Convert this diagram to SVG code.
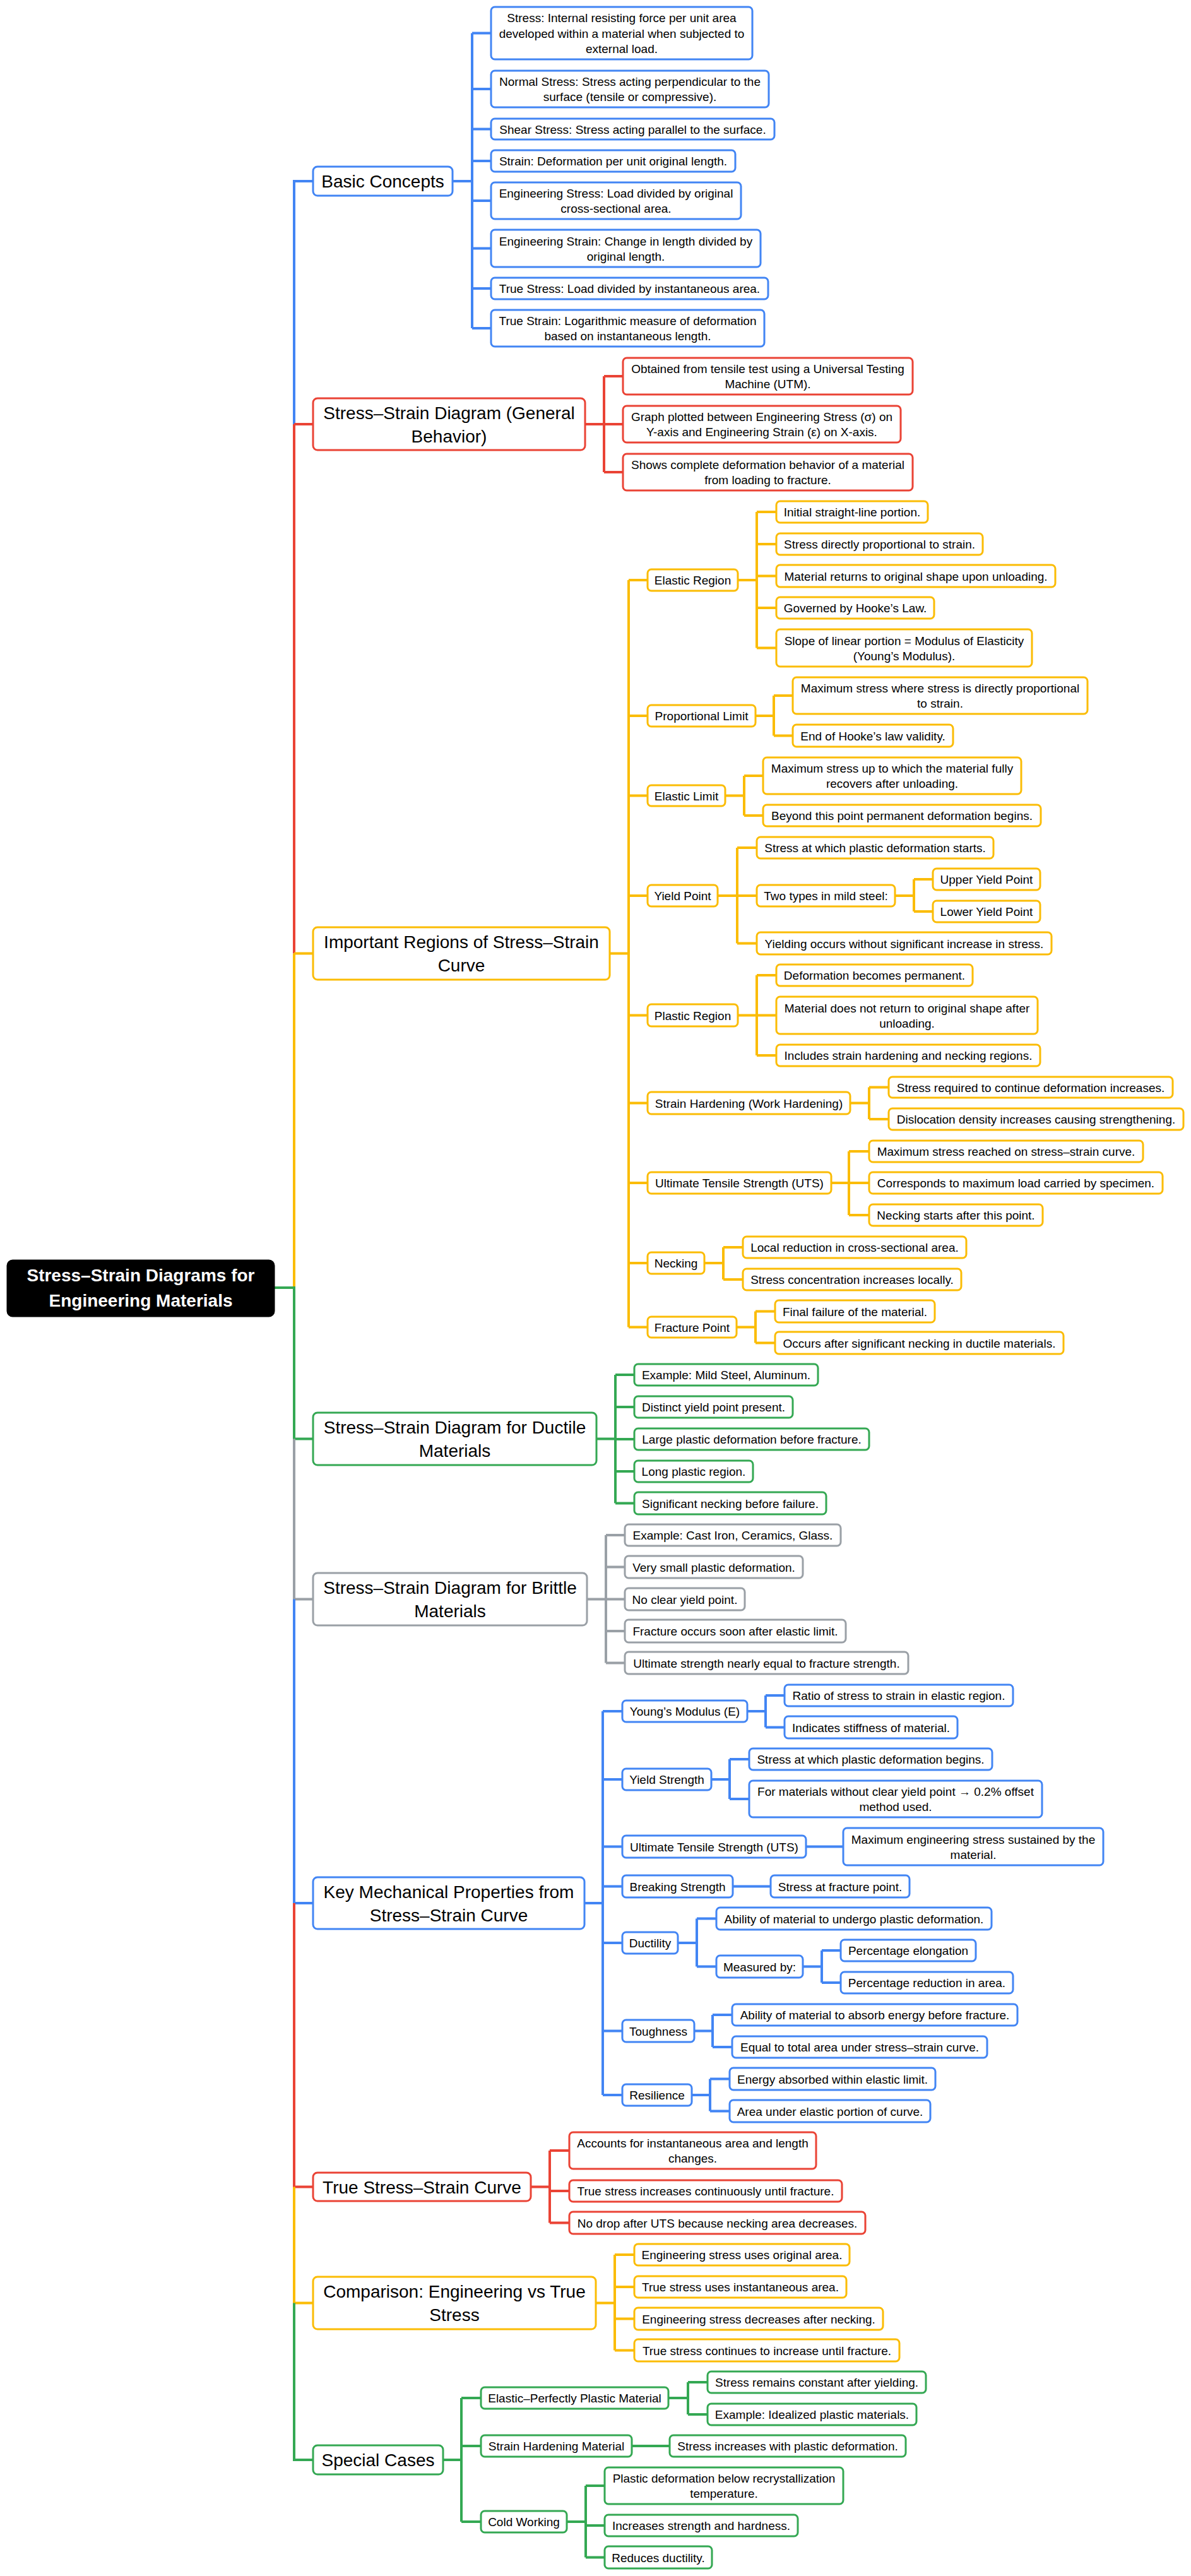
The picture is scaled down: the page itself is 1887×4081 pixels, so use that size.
<svg xmlns="http://www.w3.org/2000/svg" width="1887" height="4081" viewBox="0 0 1887 4081">
<style>
rect{fill:#fff;stroke-width:3}
text{font-family:"Liberation Sans",Arial,sans-serif;font-size:19px;fill:#000;text-anchor:middle}
.t1{font-size:28px}
.root text{fill:#fff;font-weight:bold;font-size:28px}
.root rect{fill:#000;stroke:#000}
.b rect,path.b{stroke:#4285F4}
.r rect,path.r{stroke:#EA4335}
.y rect,path.y{stroke:#FBBC04}
.g rect,path.g{stroke:#34A853}
.k rect,path.k{stroke:#9AA0A6}
#connectors path{fill:none;stroke-width:4}
</style>
<g id="connectors">
<path class="b" d="M496 287H466V672"/>
<path class="r" d="M466 672H496M466 672V1510.5"/>
<path class="y" d="M466 1510.5H496M466 1510.5V2040"/>
<path class="g" d="M434 2040H466V2279.5H496"/>
<path class="k" d="M466 2279.5V2533.5H496"/>
<path class="b" d="M466 2533.5V3015H496"/>
<path class="r" d="M466 3015V3464.5H496"/>
<path class="y" d="M466 3464.5V3648.5H496"/>
<path class="g" d="M466 3648.5V3897H496"/>
<path class="b" d="M717 287H748M748 52.5V520M748 52.5H778M748 141H778M748 204.5H778M748 255H778M748 318H778M748 393.5H778M748 457H778M748 520H778"/>
<path class="r" d="M927 672H957M957 596V748M957 596H987M957 672H987M957 748H987"/>
<path class="y" d="M966 1510.5H996M996 919V2102.5M996 919H1026M996 1134H1026M996 1260.5H1026M996 1419H1026M996 1608.5H1026M996 1747.5H1026M996 1874H1026M996 2001H1026M996 2102.5H1026"/>
<path class="y" d="M1169 919H1199M1199 811V1026.5M1199 811H1230M1199 862H1230M1199 912.5H1230M1199 963H1230M1199 1026.5H1230"/>
<path class="y" d="M1197 1134H1226M1226 1102V1165.5M1226 1102H1256M1226 1165.5H1256"/>
<path class="y" d="M1149 1260.5H1179M1179 1229V1292M1179 1229H1209M1179 1292H1209"/>
<path class="y" d="M1137 1419H1168M1168 1343V1494.5M1168 1343H1199M1168 1419H1199M1168 1494.5H1199"/>
<path class="y" d="M1418 1419H1448M1448 1393V1444M1448 1393H1478M1448 1444H1478"/>
<path class="y" d="M1169 1608.5H1199M1199 1545V1672M1199 1545H1230M1199 1608.5H1230M1199 1672H1230"/>
<path class="y" d="M1347 1747.5H1377M1377 1722.5V1773M1377 1722.5H1408M1377 1773H1408"/>
<path class="y" d="M1317 1874H1345M1345 1824V1925M1345 1824H1377M1345 1874H1377M1345 1925H1377"/>
<path class="y" d="M1116 2001H1146M1146 1976V2027M1146 1976H1177M1146 2027H1177"/>
<path class="y" d="M1167 2102.5H1197M1197 2077.5V2127.5M1197 2077.5H1228M1197 2127.5H1228"/>
<path class="g" d="M945 2279.5H975M975 2178V2381.5M975 2178H1005M975 2229H1005M975 2280H1005M975 2331H1005M975 2381.5H1005"/>
<path class="k" d="M930 2533.5H960M960 2432V2634.5M960 2432H990M960 2482.5H990M960 2533.5H990M960 2584H990M960 2634.5H990"/>
<path class="b" d="M926 3015H955M955 2711V3319M955 2711H986M955 2819H986M955 2925.5H986M955 2988.5H986M955 3078H986M955 3217.5H986M955 3319H986"/>
<path class="b" d="M1184 2711H1213M1213 2686V2736.5M1213 2686H1243M1213 2736.5H1243"/>
<path class="b" d="M1127 2819H1156M1156 2787V2850M1156 2787H1187M1156 2850H1187"/>
<path class="b" d="M1277 2925.5H1336"/>
<path class="b" d="M1161 2988.5H1221"/>
<path class="b" d="M1074 3078H1104M1104 3039.5V3115.5M1104 3039.5H1135M1104 3115.5H1135"/>
<path class="b" d="M1272 3115.5H1302M1302 3090V3141M1302 3090H1332M1302 3141H1332"/>
<path class="b" d="M1100 3217.5H1129M1129 3192V3243M1129 3192H1160M1129 3243H1160"/>
<path class="b" d="M1096 3319H1125M1125 3293.5V3344.5M1125 3293.5H1156M1125 3344.5H1156"/>
<path class="r" d="M841 3464.5H871M871 3407V3521.5M871 3407H902M871 3471H902M871 3521.5H902"/>
<path class="y" d="M944 3648.5H974M974 3572V3723.5M974 3572H1005M974 3623H1005M974 3673.5H1005M974 3723.5H1005"/>
<path class="g" d="M702 3897H731M731 3799V3995M731 3799H762M731 3875H762M731 3995H762"/>
<path class="g" d="M1059 3799H1090M1090 3774V3825M1090 3774H1121M1090 3825H1121"/>
<path class="g" d="M1001 3875H1061"/>
<path class="g" d="M898 3995H928M928 3938V4051.5M928 3938H958M928 4001H958M928 4051.5H958"/>
</g>

<g id="root" class="root"><rect x="12" y="1997" width="422" height="88" rx="8"/><text x="223" y="2030">Stress–Strain Diagrams for</text><text x="223" y="2070">Engineering Materials</text></g>

<g id="basic" class="b"><rect x="496" y="264" width="221" height="46" rx="7"/><text class="t1" x="606.5" y="297">Basic Concepts</text></g>
<g id="basic-1" class="b"><rect x="778" y="11" width="414" height="83" rx="6"/><text x="985" y="35">Stress: Internal resisting force per unit area</text><text x="985" y="59.5">developed within a material when subjected to</text><text x="985" y="84">external load.</text></g>
<g id="basic-2" class="b"><rect x="778" y="112" width="440" height="58" rx="6"/><text x="998" y="136">Normal Stress: Stress acting perpendicular to the</text><text x="998" y="160">surface (tensile or compressive).</text></g>
<g id="basic-3" class="b"><rect x="778" y="188" width="449" height="33" rx="6"/><text x="1002.5" y="211.5">Shear Stress: Stress acting parallel to the surface.</text></g>
<g id="basic-4" class="b"><rect x="778" y="238" width="387" height="34" rx="6"/><text x="971.5" y="262">Strain: Deformation per unit original length.</text></g>
<g id="basic-5" class="b"><rect x="778" y="289" width="396" height="58" rx="6"/><text x="976" y="313">Engineering Stress: Load divided by original</text><text x="976" y="337">cross-sectional area.</text></g>
<g id="basic-6" class="b"><rect x="778" y="364" width="427" height="59" rx="6"/><text x="991.5" y="388.5">Engineering Strain: Change in length divided by</text><text x="991.5" y="412.5">original length.</text></g>
<g id="basic-7" class="b"><rect x="778" y="440" width="439" height="34" rx="6"/><text x="997.5" y="464">True Stress: Load divided by instantaneous area.</text></g>
<g id="basic-8" class="b"><rect x="778" y="491" width="433" height="58" rx="6"/><text x="994.5" y="515">True Strain: Logarithmic measure of deformation</text><text x="994.5" y="539">based on instantaneous length.</text></g>

<g id="general" class="r"><rect x="496" y="631" width="431" height="82" rx="7"/><text class="t1" x="711.5" y="663.5">Stress–Strain Diagram (General</text><text class="t1" x="711.5" y="700.5">Behavior)</text></g>
<g id="general-1" class="r"><rect x="987" y="567" width="459" height="58" rx="6"/><text x="1216.5" y="591">Obtained from tensile test using a Universal Testing</text><text x="1216.5" y="615">Machine (UTM).</text></g>
<g id="general-2" class="r"><rect x="987" y="643" width="440" height="58" rx="6"/><text x="1207" y="667">Graph plotted between Engineering Stress (σ) on</text><text x="1207" y="691">Y-axis and Engineering Strain (ε) on X-axis.</text></g>
<g id="general-3" class="r"><rect x="987" y="719" width="459" height="58" rx="6"/><text x="1216.5" y="743">Shows complete deformation behavior of a material</text><text x="1216.5" y="767">from loading to fracture.</text></g>

<g id="regions" class="y"><rect x="496" y="1469" width="470" height="83" rx="7"/><text class="t1" x="731" y="1502">Important Regions of Stress–Strain</text><text class="t1" x="731" y="1539">Curve</text></g>
<g id="elastic-region" class="y"><rect x="1026" y="902" width="143" height="34" rx="6"/><text x="1097.5" y="926">Elastic Region</text></g>
<g id="er-1" class="y"><rect x="1230" y="794" width="240" height="34" rx="6"/><text x="1350" y="818">Initial straight-line portion.</text></g>
<g id="er-2" class="y"><rect x="1230" y="845" width="327" height="34" rx="6"/><text x="1393.5" y="869">Stress directly proportional to strain.</text></g>
<g id="er-3" class="y"><rect x="1230" y="895" width="442" height="35" rx="6"/><text x="1451" y="919.5">Material returns to original shape upon unloading.</text></g>
<g id="er-4" class="y"><rect x="1230" y="946" width="250" height="34" rx="6"/><text x="1355" y="970">Governed by Hooke’s Law.</text></g>
<g id="er-5" class="y"><rect x="1230" y="997" width="405" height="59" rx="6"/><text x="1432.5" y="1021.5">Slope of linear portion = Modulus of Elasticity</text><text x="1432.5" y="1045.5">(Young’s Modulus).</text></g>
<g id="prop-limit" class="y"><rect x="1026" y="1117" width="171" height="34" rx="6"/><text x="1111.5" y="1141">Proportional Limit</text></g>
<g id="pl-1" class="y"><rect x="1256" y="1073" width="467" height="58" rx="6"/><text x="1489.5" y="1097">Maximum stress where stress is directly proportional</text><text x="1489.5" y="1121">to strain.</text></g>
<g id="pl-2" class="y"><rect x="1256" y="1148" width="254" height="35" rx="6"/><text x="1383" y="1172.5">End of Hooke’s law validity.</text></g>
<g id="elastic-limit" class="y"><rect x="1026" y="1244" width="123" height="33" rx="6"/><text x="1087.5" y="1267.5">Elastic Limit</text></g>
<g id="el-1" class="y"><rect x="1209" y="1200" width="409" height="58" rx="6"/><text x="1413.5" y="1224">Maximum stress up to which the material fully</text><text x="1413.5" y="1248">recovers after unloading.</text></g>
<g id="el-2" class="y"><rect x="1209" y="1275" width="440" height="34" rx="6"/><text x="1429" y="1299">Beyond this point permanent deformation begins.</text></g>
<g id="yield-point" class="y"><rect x="1026" y="1402" width="111" height="34" rx="6"/><text x="1081.5" y="1426">Yield Point</text></g>
<g id="yp-1" class="y"><rect x="1199" y="1326" width="375" height="34" rx="6"/><text x="1386.5" y="1350">Stress at which plastic deformation starts.</text></g>
<g id="yp-2" class="y"><rect x="1199" y="1402" width="219" height="34" rx="6"/><text x="1308.5" y="1426">Two types in mild steel:</text></g>
<g id="yp-upper" class="y"><rect x="1478" y="1376" width="170" height="34" rx="6"/><text x="1563" y="1400">Upper Yield Point</text></g>
<g id="yp-lower" class="y"><rect x="1478" y="1427" width="170" height="34" rx="6"/><text x="1563" y="1451">Lower Yield Point</text></g>
<g id="yp-3" class="y"><rect x="1199" y="1477" width="467" height="35" rx="6"/><text x="1432.5" y="1501.5">Yielding occurs without significant increase in stress.</text></g>
<g id="plastic-region" class="y"><rect x="1026" y="1591" width="143" height="35" rx="6"/><text x="1097.5" y="1615.5">Plastic Region</text></g>
<g id="pr-1" class="y"><rect x="1230" y="1528" width="311" height="34" rx="6"/><text x="1385.5" y="1552">Deformation becomes permanent.</text></g>
<g id="pr-2" class="y"><rect x="1230" y="1579" width="414" height="59" rx="6"/><text x="1437" y="1603.5">Material does not return to original shape after</text><text x="1437" y="1627.5">unloading.</text></g>
<g id="pr-3" class="y"><rect x="1230" y="1655" width="418" height="34" rx="6"/><text x="1439" y="1679">Includes strain hardening and necking regions.</text></g>
<g id="strain-hardening" class="y"><rect x="1026" y="1730" width="321" height="35" rx="6"/><text x="1186.5" y="1754.5">Strain Hardening (Work Hardening)</text></g>
<g id="sh-1" class="y"><rect x="1408" y="1706" width="450" height="33" rx="6"/><text x="1633" y="1729.5">Stress required to continue deformation increases.</text></g>
<g id="sh-2" class="y"><rect x="1408" y="1756" width="467" height="34" rx="6"/><text x="1641.5" y="1780">Dislocation density increases causing strengthening.</text></g>
<g id="uts" class="y"><rect x="1026" y="1857" width="291" height="34" rx="6"/><text x="1171.5" y="1881">Ultimate Tensile Strength (UTS)</text></g>
<g id="uts-1" class="y"><rect x="1377" y="1807" width="434" height="34" rx="6"/><text x="1594" y="1831">Maximum stress reached on stress–strain curve.</text></g>
<g id="uts-2" class="y"><rect x="1377" y="1857" width="465" height="34" rx="6"/><text x="1609.5" y="1881">Corresponds to maximum load carried by specimen.</text></g>
<g id="uts-3" class="y"><rect x="1377" y="1908" width="275" height="34" rx="6"/><text x="1514.5" y="1932">Necking starts after this point.</text></g>
<g id="necking" class="y"><rect x="1026" y="1984" width="90" height="34" rx="6"/><text x="1071" y="2008">Necking</text></g>
<g id="nk-1" class="y"><rect x="1177" y="1959" width="354" height="34" rx="6"/><text x="1354" y="1983">Local reduction in cross-sectional area.</text></g>
<g id="nk-2" class="y"><rect x="1177" y="2010" width="346" height="34" rx="6"/><text x="1350" y="2034">Stress concentration increases locally.</text></g>
<g id="fracture" class="y"><rect x="1026" y="2086" width="141" height="33" rx="6"/><text x="1096.5" y="2109.5">Fracture Point</text></g>
<g id="fp-1" class="y"><rect x="1228" y="2060" width="253" height="35" rx="6"/><text x="1354.5" y="2084.5">Final failure of the material.</text></g>
<g id="fp-2" class="y"><rect x="1228" y="2110" width="457" height="35" rx="6"/><text x="1456.5" y="2134.5">Occurs after significant necking in ductile materials.</text></g>

<g id="ductile" class="g"><rect x="496" y="2238" width="449" height="83" rx="7"/><text class="t1" x="720.5" y="2271">Stress–Strain Diagram for Ductile</text><text class="t1" x="720.5" y="2308">Materials</text></g>
<g id="du-1" class="g"><rect x="1005" y="2161" width="291" height="34" rx="6"/><text x="1150.5" y="2185">Example: Mild Steel, Aluminum.</text></g>
<g id="du-2" class="g"><rect x="1005" y="2212" width="251" height="34" rx="6"/><text x="1130.5" y="2236">Distinct yield point present.</text></g>
<g id="du-3" class="g"><rect x="1005" y="2263" width="372" height="34" rx="6"/><text x="1191" y="2287">Large plastic deformation before fracture.</text></g>
<g id="du-4" class="g"><rect x="1005" y="2314" width="188" height="34" rx="6"/><text x="1099" y="2338">Long plastic region.</text></g>
<g id="du-5" class="g"><rect x="1005" y="2364" width="304" height="35" rx="6"/><text x="1157" y="2388.5">Significant necking before failure.</text></g>

<g id="brittle" class="k"><rect x="496" y="2492" width="434" height="83" rx="7"/><text class="t1" x="713" y="2525">Stress–Strain Diagram for Brittle</text><text class="t1" x="713" y="2562">Materials</text></g>
<g id="br-1" class="k"><rect x="990" y="2415" width="342" height="34" rx="6"/><text x="1161" y="2439">Example: Cast Iron, Ceramics, Glass.</text></g>
<g id="br-2" class="k"><rect x="990" y="2465" width="282" height="35" rx="6"/><text x="1131" y="2489.5">Very small plastic deformation.</text></g>
<g id="br-3" class="k"><rect x="990" y="2516" width="190" height="35" rx="6"/><text x="1085" y="2540.5">No clear yield point.</text></g>
<g id="br-4" class="k"><rect x="990" y="2566" width="350" height="36" rx="6"/><text x="1165" y="2591">Fracture occurs soon after elastic limit.</text></g>
<g id="br-5" class="k"><rect x="990" y="2617" width="449" height="35" rx="6"/><text x="1214.5" y="2641.5">Ultimate strength nearly equal to fracture strength.</text></g>

<g id="key" class="b"><rect x="496" y="2974" width="430" height="82" rx="7"/><text class="t1" x="711" y="3006.5">Key Mechanical Properties from</text><text class="t1" x="711" y="3043.5">Stress–Strain Curve</text></g>
<g id="youngs" class="b"><rect x="986" y="2694" width="198" height="34" rx="6"/><text x="1085" y="2718">Young’s Modulus (E)</text></g>
<g id="ym-1" class="b"><rect x="1243" y="2669" width="362" height="34" rx="6"/><text x="1424" y="2693">Ratio of stress to strain in elastic region.</text></g>
<g id="ym-2" class="b"><rect x="1243" y="2719" width="274" height="35" rx="6"/><text x="1380" y="2743.5">Indicates stiffness of material.</text></g>
<g id="yield-strength" class="b"><rect x="986" y="2802" width="141" height="34" rx="6"/><text x="1056.5" y="2826">Yield Strength</text></g>
<g id="ys-1" class="b"><rect x="1187" y="2770" width="385" height="34" rx="6"/><text x="1379.5" y="2794">Stress at which plastic deformation begins.</text></g>
<g id="ys-2" class="b"><rect x="1187" y="2821" width="464" height="58" rx="6"/><text x="1419" y="2845">For materials without clear yield point → 0.2% offset</text><text x="1419" y="2869">method used.</text></g>
<g id="uts-prop" class="b"><rect x="986" y="2908" width="291" height="35" rx="6"/><text x="1131.5" y="2932.5">Ultimate Tensile Strength (UTS)</text></g>
<g id="utsp-1" class="b"><rect x="1336" y="2896" width="412" height="59" rx="6"/><text x="1542" y="2920.5">Maximum engineering stress sustained by the</text><text x="1542" y="2944.5">material.</text></g>
<g id="breaking" class="b"><rect x="986" y="2971" width="175" height="35" rx="6"/><text x="1073.5" y="2995.5">Breaking Strength</text></g>
<g id="bs-1" class="b"><rect x="1221" y="2971" width="220" height="35" rx="6"/><text x="1331" y="2995.5">Stress at fracture point.</text></g>
<g id="ductility" class="b"><rect x="986" y="3061" width="88" height="34" rx="6"/><text x="1030" y="3085">Ductility</text></g>
<g id="dc-1" class="b"><rect x="1135" y="3022" width="436" height="35" rx="6"/><text x="1353" y="3046.5">Ability of material to undergo plastic deformation.</text></g>
<g id="dc-2" class="b"><rect x="1135" y="3098" width="137" height="35" rx="6"/><text x="1203.5" y="3122.5">Measured by:</text></g>
<g id="dc-m1" class="b"><rect x="1332" y="3073" width="214" height="34" rx="6"/><text x="1439" y="3097">Percentage elongation</text></g>
<g id="dc-m2" class="b"><rect x="1332" y="3124" width="273" height="34" rx="6"/><text x="1468.5" y="3148">Percentage reduction in area.</text></g>
<g id="toughness" class="b"><rect x="986" y="3200" width="114" height="35" rx="6"/><text x="1043" y="3224.5">Toughness</text></g>
<g id="tg-1" class="b"><rect x="1160" y="3175" width="452" height="34" rx="6"/><text x="1386" y="3199">Ability of material to absorb energy before fracture.</text></g>
<g id="tg-2" class="b"><rect x="1160" y="3226" width="404" height="34" rx="6"/><text x="1362" y="3250">Equal to total area under stress–strain curve.</text></g>
<g id="resilience" class="b"><rect x="986" y="3302" width="110" height="34" rx="6"/><text x="1041" y="3326">Resilience</text></g>
<g id="rs-1" class="b"><rect x="1156" y="3276" width="326" height="35" rx="6"/><text x="1319" y="3300.5">Energy absorbed within elastic limit.</text></g>
<g id="rs-2" class="b"><rect x="1156" y="3327" width="318" height="35" rx="6"/><text x="1315" y="3351.5">Area under elastic portion of curve.</text></g>

<g id="true-curve" class="r"><rect x="496" y="3442" width="345" height="45" rx="7"/><text class="t1" x="668.5" y="3474.5">True Stress–Strain Curve</text></g>
<g id="tc-1" class="r"><rect x="902" y="3378" width="391" height="58" rx="6"/><text x="1097.5" y="3402">Accounts for instantaneous area and length</text><text x="1097.5" y="3426">changes.</text></g>
<g id="tc-2" class="r"><rect x="902" y="3454" width="432" height="34" rx="6"/><text x="1118" y="3478">True stress increases continuously until fracture.</text></g>
<g id="tc-3" class="r"><rect x="902" y="3504" width="469" height="35" rx="6"/><text x="1136.5" y="3528.5">No drop after UTS because necking area decreases.</text></g>

<g id="comparison" class="y"><rect x="496" y="3607" width="448" height="83" rx="7"/><text class="t1" x="720" y="3640">Comparison: Engineering vs True</text><text class="t1" x="720" y="3677">Stress</text></g>
<g id="cp-1" class="y"><rect x="1005" y="3555" width="341" height="34" rx="6"/><text x="1175.5" y="3579">Engineering stress uses original area.</text></g>
<g id="cp-2" class="y"><rect x="1005" y="3606" width="336" height="34" rx="6"/><text x="1173" y="3630">True stress uses instantaneous area.</text></g>
<g id="cp-3" class="y"><rect x="1005" y="3656" width="394" height="35" rx="6"/><text x="1202" y="3680.5">Engineering stress decreases after necking.</text></g>
<g id="cp-4" class="y"><rect x="1005" y="3706" width="420" height="35" rx="6"/><text x="1215" y="3730.5">True stress continues to increase until fracture.</text></g>

<g id="special" class="g"><rect x="496" y="3874" width="206" height="46" rx="7"/><text class="t1" x="599" y="3907">Special Cases</text></g>
<g id="epp" class="g"><rect x="762" y="3782" width="297" height="34" rx="6"/><text x="910.5" y="3806">Elastic–Perfectly Plastic Material</text></g>
<g id="epp-1" class="g"><rect x="1121" y="3757" width="346" height="34" rx="6"/><text x="1294" y="3781">Stress remains constant after yielding.</text></g>
<g id="epp-2" class="g"><rect x="1121" y="3808" width="331" height="34" rx="6"/><text x="1286.5" y="3832">Example: Idealized plastic materials.</text></g>
<g id="shm" class="g"><rect x="762" y="3858" width="239" height="34" rx="6"/><text x="881.5" y="3882">Strain Hardening Material</text></g>
<g id="shm-1" class="g"><rect x="1061" y="3858" width="374" height="34" rx="6"/><text x="1248" y="3882">Stress increases with plastic deformation.</text></g>
<g id="cold" class="g"><rect x="762" y="3978" width="136" height="34" rx="6"/><text x="830" y="4002">Cold Working</text></g>
<g id="cw-1" class="g"><rect x="958" y="3909" width="378" height="58" rx="6"/><text x="1147" y="3933">Plastic deformation below recrystallization</text><text x="1147" y="3957">temperature.</text></g>
<g id="cw-2" class="g"><rect x="958" y="3984" width="306" height="34" rx="6"/><text x="1111" y="4008">Increases strength and hardness.</text></g>
<g id="cw-3" class="g"><rect x="958" y="4034" width="170" height="35" rx="6"/><text x="1043" y="4058.5">Reduces ductility.</text></g>
</svg>
